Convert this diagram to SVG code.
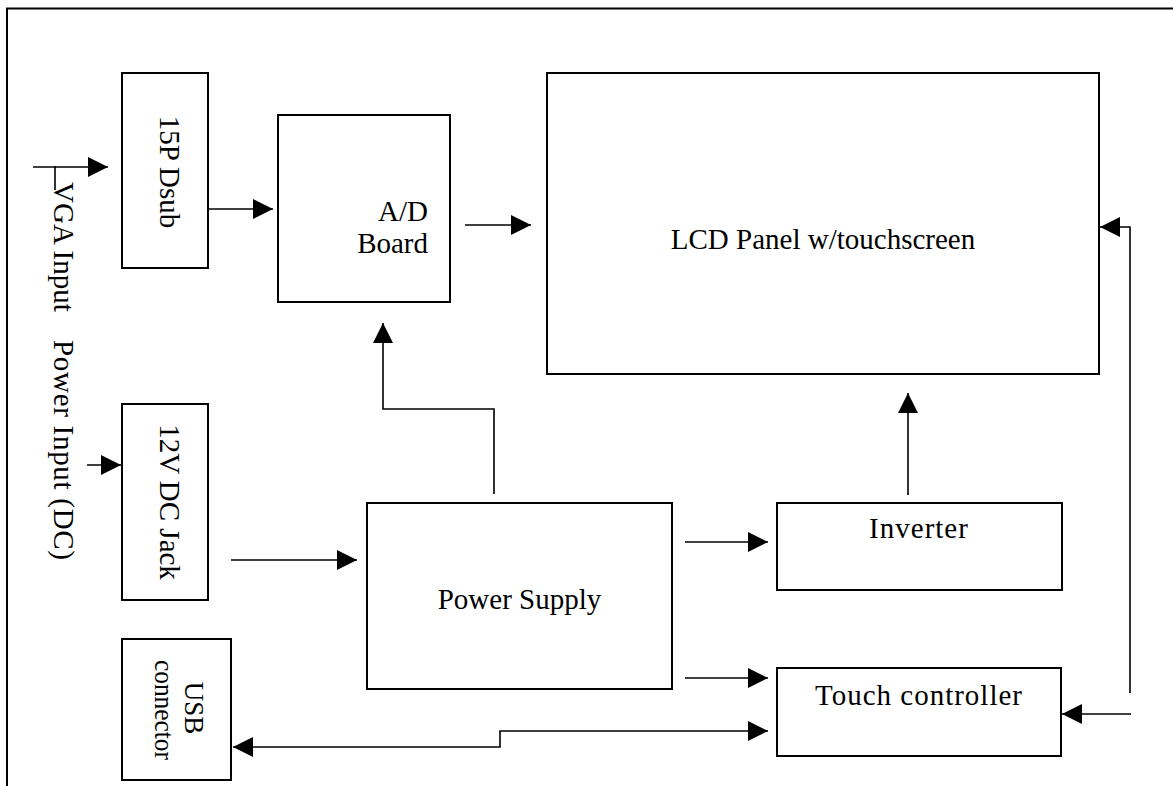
<svg xmlns="http://www.w3.org/2000/svg" width="1173" height="786" viewBox="0 0 1173 786">
<style>
  .box { fill: #fff; stroke: #000; stroke-width: 2; }
  .frame { fill: none; stroke: #000; stroke-width: 2; }
  .wire { fill: none; stroke: #000; stroke-width: 1.6; }
  .arr { marker-end: url(#ah); }
  text { font-family: "Liberation Serif", "Times New Roman", serif; font-size: 29px; fill: #000; }
  .c { text-anchor: middle; }
  .ls { letter-spacing: 1px; }
</style>
<defs>
  <marker id="ah" markerUnits="userSpaceOnUse" markerWidth="20" markerHeight="20" refX="20" refY="10" orient="auto-start-reverse">
    <path d="M0,0 L20,10 L0,20 z" fill="#000"/>
  </marker>
</defs>

<g id="frame">
  <path class="frame" d="M7,786 V8.5 H1173"/>
</g>

<g id="labels">
  <text transform="translate(54,182) rotate(90)">VGA Input</text>
  <text transform="translate(54,340) rotate(90)" textLength="220" lengthAdjust="spacing">Power Input (DC)</text>
</g>

<g id="dsub">
  <rect class="box" x="122" y="73" width="86" height="195"/>
  <text class="c" transform="translate(160,172) rotate(90)">15P Dsub</text>
</g>

<g id="adboard">
  <rect class="box" x="278" y="115" width="172" height="187"/>
  <text x="428" y="221" text-anchor="end">A/D</text>
  <text x="428" y="253" text-anchor="end">Board</text>
</g>

<g id="lcd">
  <rect class="box" x="547" y="73" width="552" height="301"/>
  <text class="c" x="823" y="249">LCD Panel w/touchscreen</text>
</g>

<g id="dcjack">
  <rect class="box" x="122" y="404" width="86" height="196"/>
  <text class="c" transform="translate(160,502) rotate(90)">12V DC Jack</text>
</g>

<g id="usb">
  <rect class="box" x="122" y="639" width="109" height="141"/>
  <text class="c" transform="translate(185,708) rotate(90)" style="font-size:27px">USB</text>
  <text class="c" transform="translate(155,710) rotate(90)" style="font-size:27px" textLength="100" lengthAdjust="spacingAndGlyphs">connector</text>
</g>

<g id="powersupply">
  <rect class="box" x="367" y="503" width="305" height="186"/>
  <text class="c" x="519.5" y="609">Power Supply</text>
</g>

<g id="inverter">
  <rect class="box" x="777" y="503" width="285" height="87"/>
  <text class="c ls" x="919" y="538">Inverter</text>
</g>

<g id="touch">
  <rect class="box" x="777" y="668" width="284" height="88"/>
  <text class="c ls" x="919" y="705">Touch controller</text>
</g>

<g id="connectors">
  <line class="wire arr" x1="33" y1="167" x2="108" y2="167"/>
  <line class="wire" x1="55" y1="166" x2="55" y2="190"/>
  <line class="wire arr" x1="87" y1="465" x2="121" y2="465"/>
  <line class="wire arr" x1="208" y1="209" x2="273" y2="209"/>
  <line class="wire arr" x1="465" y1="225" x2="531" y2="225"/>
  <path class="wire arr" d="M494,494 V409 H383 V323"/>
  <line class="wire arr" x1="231" y1="560" x2="357" y2="560"/>
  <line class="wire arr" x1="685" y1="542" x2="768" y2="542"/>
  <line class="wire arr" x1="685" y1="678" x2="768" y2="678"/>
  <path class="wire arr" d="M233,747 H500 V731 H768" style="marker-start:url(#ah)"/>
  <line class="wire arr" x1="908" y1="495" x2="908" y2="393"/>
  <path class="wire arr" d="M1130,693 V227 H1100"/>
  <line class="wire arr" x1="1131" y1="714" x2="1062" y2="714"/>
</g>
</svg>
